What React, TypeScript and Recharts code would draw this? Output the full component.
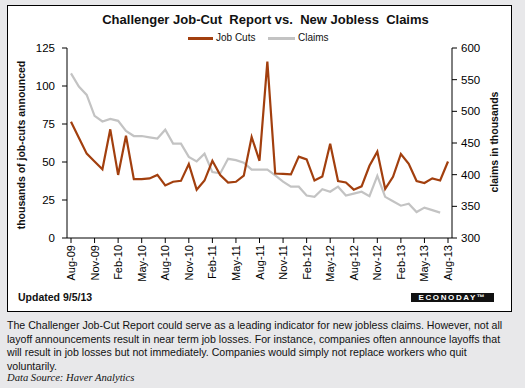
import React from 'react';
import { LineChart, Line, XAxis, YAxis } from 'recharts';

// months Aug-09 .. Aug-13
const months = [
  'Aug-09', 'Sep-09', 'Oct-09', 'Nov-09', 'Dec-09',
  'Jan-10', 'Feb-10', 'Mar-10', 'Apr-10', 'May-10', 'Jun-10', 'Jul-10', 'Aug-10', 'Sep-10', 'Oct-10', 'Nov-10', 'Dec-10',
  'Jan-11', 'Feb-11', 'Mar-11', 'Apr-11', 'May-11', 'Jun-11', 'Jul-11', 'Aug-11', 'Sep-11', 'Oct-11', 'Nov-11', 'Dec-11',
  'Jan-12', 'Feb-12', 'Mar-12', 'Apr-12', 'May-12', 'Jun-12', 'Jul-12', 'Aug-12', 'Sep-12', 'Oct-12', 'Nov-12', 'Dec-12',
  'Jan-13', 'Feb-13', 'Mar-13', 'Apr-13', 'May-13', 'Jun-13', 'Jul-13', 'Aug-13',
];

// thousands of job cuts announced
const jobCuts = [
  76.5, 66, 55.5, 50.3, 45.2,
  71.5, 41.5, 67.3, 38.7, 38.7, 39.2, 41.5, 34.6, 37, 37.6, 48.7, 31.8,
  37.8, 50.8, 41.4, 36.5, 37, 41, 66.5, 50.8, 116, 42.4, 42.2, 41.8,
  53.5, 51.7, 37.8, 40.4, 62, 37.5, 36.5, 31.8, 34, 47.5, 56.8, 32.3,
  40.3, 55.3, 48.8, 37.5, 36.2, 39.2, 37.8, 50.3,
];

// claims in thousands (monthly avg), no Aug-13 value
const claims = [
  560, 539, 526, 493, 484,
  488, 485, 469, 461, 461, 459, 457, 471, 449, 449, 428, 421,
  433, 404, 402, 425, 423, 419, 408, 408, 408, 399, 389, 381,
  381, 367, 365, 377, 373, 381, 367, 370, 373, 366, 398, 365,
  358, 351, 354, 341, 348, 344, 340, null,
];

const leftTicks = [0, 25, 50, 75, 100, 125];
const rightTicks = [300, 350, 400, 450, 500, 550, 600];

const data = months.map((m, i) => ({ month: m, cuts: jobCuts[i], claims: claims[i] }));

const FONT = '"Liberation Sans", Arial, sans-serif';
const RUST = '#a23f0e';
const GREY = '#c3c3c3';

const MonthTick = (props: any) => {
  const { x, y, payload } = props;
  return (
    <text x={x} y={y} dy={4} transform={`rotate(-90, ${x}, ${y})`} textAnchor="end" fontSize={11} fill="#000" fontFamily={FONT}>
      {payload.value}
    </text>
  );
};

export default function App() {
  return (
    <div style={{ position: 'absolute', left: 0, top: 0, width: 525, height: 388, background: '#e8e8ea', fontFamily: FONT, overflow: 'hidden' }}>
      <div style={{ position: 'absolute', left: 7, top: 5, width: 505, height: 307, background: '#fff', border: '1px solid #000', boxSizing: 'border-box' }} />

      <div style={{ position: 'absolute', left: 0, top: 12, width: 531, textAlign: 'center', fontSize: 13, fontWeight: 'bold', color: '#111', whiteSpace: 'pre' }}>
        Challenger Job-Cut  Report vs.  New Jobless  Claims
      </div>

      {/* legend */}
      <div style={{ position: 'absolute', left: 188, top: 37, width: 25, height: 3, background: RUST }} />
      <div style={{ position: 'absolute', left: 216, top: 32, fontSize: 10, color: '#111' }}>Job Cuts</div>
      <div style={{ position: 'absolute', left: 268, top: 37, width: 27, height: 3, background: GREY }} />
      <div style={{ position: 'absolute', left: 298, top: 32, fontSize: 10, color: '#111' }}>Claims</div>

      <div style={{ position: 'absolute', left: 0, top: 0 }}>
        <LineChart width={525} height={300} data={data} margin={{ top: 48, right: 0, bottom: 0, left: 0 }}>
          <XAxis
            dataKey="month"
            interval={2}
            height={62}
            padding={{ left: 4, right: 4 }}
            tick={<MonthTick />}
            tickSize={5}
            tickMargin={2}
            stroke="#000"
          />
          <YAxis
            yAxisId="left"
            width={67}
            domain={[0, 125]}
            ticks={leftTicks}
            tickSize={5}
            tickMargin={7}
            stroke="#000"
            tick={{ fill: '#000', fontSize: 11.5 }}
          />
          <YAxis
            yAxisId="right"
            orientation="right"
            width={73}
            domain={[300, 600]}
            ticks={rightTicks}
            tickSize={5}
            tickMargin={4}
            stroke="#000"
            tick={{ fill: '#000', fontSize: 11.5 }}
          />
          <Line yAxisId="right" type="linear" dataKey="claims" stroke={GREY} strokeWidth={2.2} dot={false} isAnimationActive={false} />
          <Line yAxisId="left" type="linear" dataKey="cuts" stroke={RUST} strokeWidth={2.2} dot={false} isAnimationActive={false} />
        </LineChart>
      </div>

      {/* axis titles */}
      <div style={{ position: 'absolute', left: 21, top: 145, transform: 'translate(-50%, -50%) rotate(-90deg)', fontSize: 10.5, fontWeight: 'bold', whiteSpace: 'nowrap', color: '#111' }}>
        thousands of job-cuts announced
      </div>
      <div style={{ position: 'absolute', left: 494, top: 142, transform: 'translate(-50%, -50%) rotate(-90deg)', fontSize: 10.5, fontWeight: 'bold', whiteSpace: 'nowrap', color: '#111' }}>
        claims in thousands
      </div>

      {/* footer inside box */}
      <div style={{ position: 'absolute', left: 18, top: 291, fontSize: 10.5, fontWeight: 'bold', color: '#111' }}>Updated 9/5/13</div>
      <div style={{ position: 'absolute', left: 411, top: 293, width: 83, height: 9, background: '#111', color: '#fff', fontSize: 8, fontWeight: 'bold', lineHeight: '9px', textAlign: 'center', letterSpacing: 1.6 }}>
        ECONODAY™
      </div>

      {/* text below */}
      <div style={{ position: 'absolute', left: 7, top: 319, fontSize: 10.6, lineHeight: '13.5px', color: '#111', whiteSpace: 'nowrap' }}>
        The Challenger Job-Cut Report could serve as a leading indicator for new jobless claims. However, not all<br />
        layoff announcements result in near term job losses. For instance, companies often announce layoffs that<br />
        will result in job losses but not immediately. Companies would simply not replace workers who quit<br />
        voluntarily.
      </div>
      <div style={{ position: 'absolute', left: 7, top: 372, fontSize: 10.6, fontStyle: 'italic', fontFamily: '"Liberation Serif", "Times New Roman", serif', color: '#111', whiteSpace: 'nowrap' }}>
        Data Source: Haver Analytics
      </div>
    </div>
  );
}
